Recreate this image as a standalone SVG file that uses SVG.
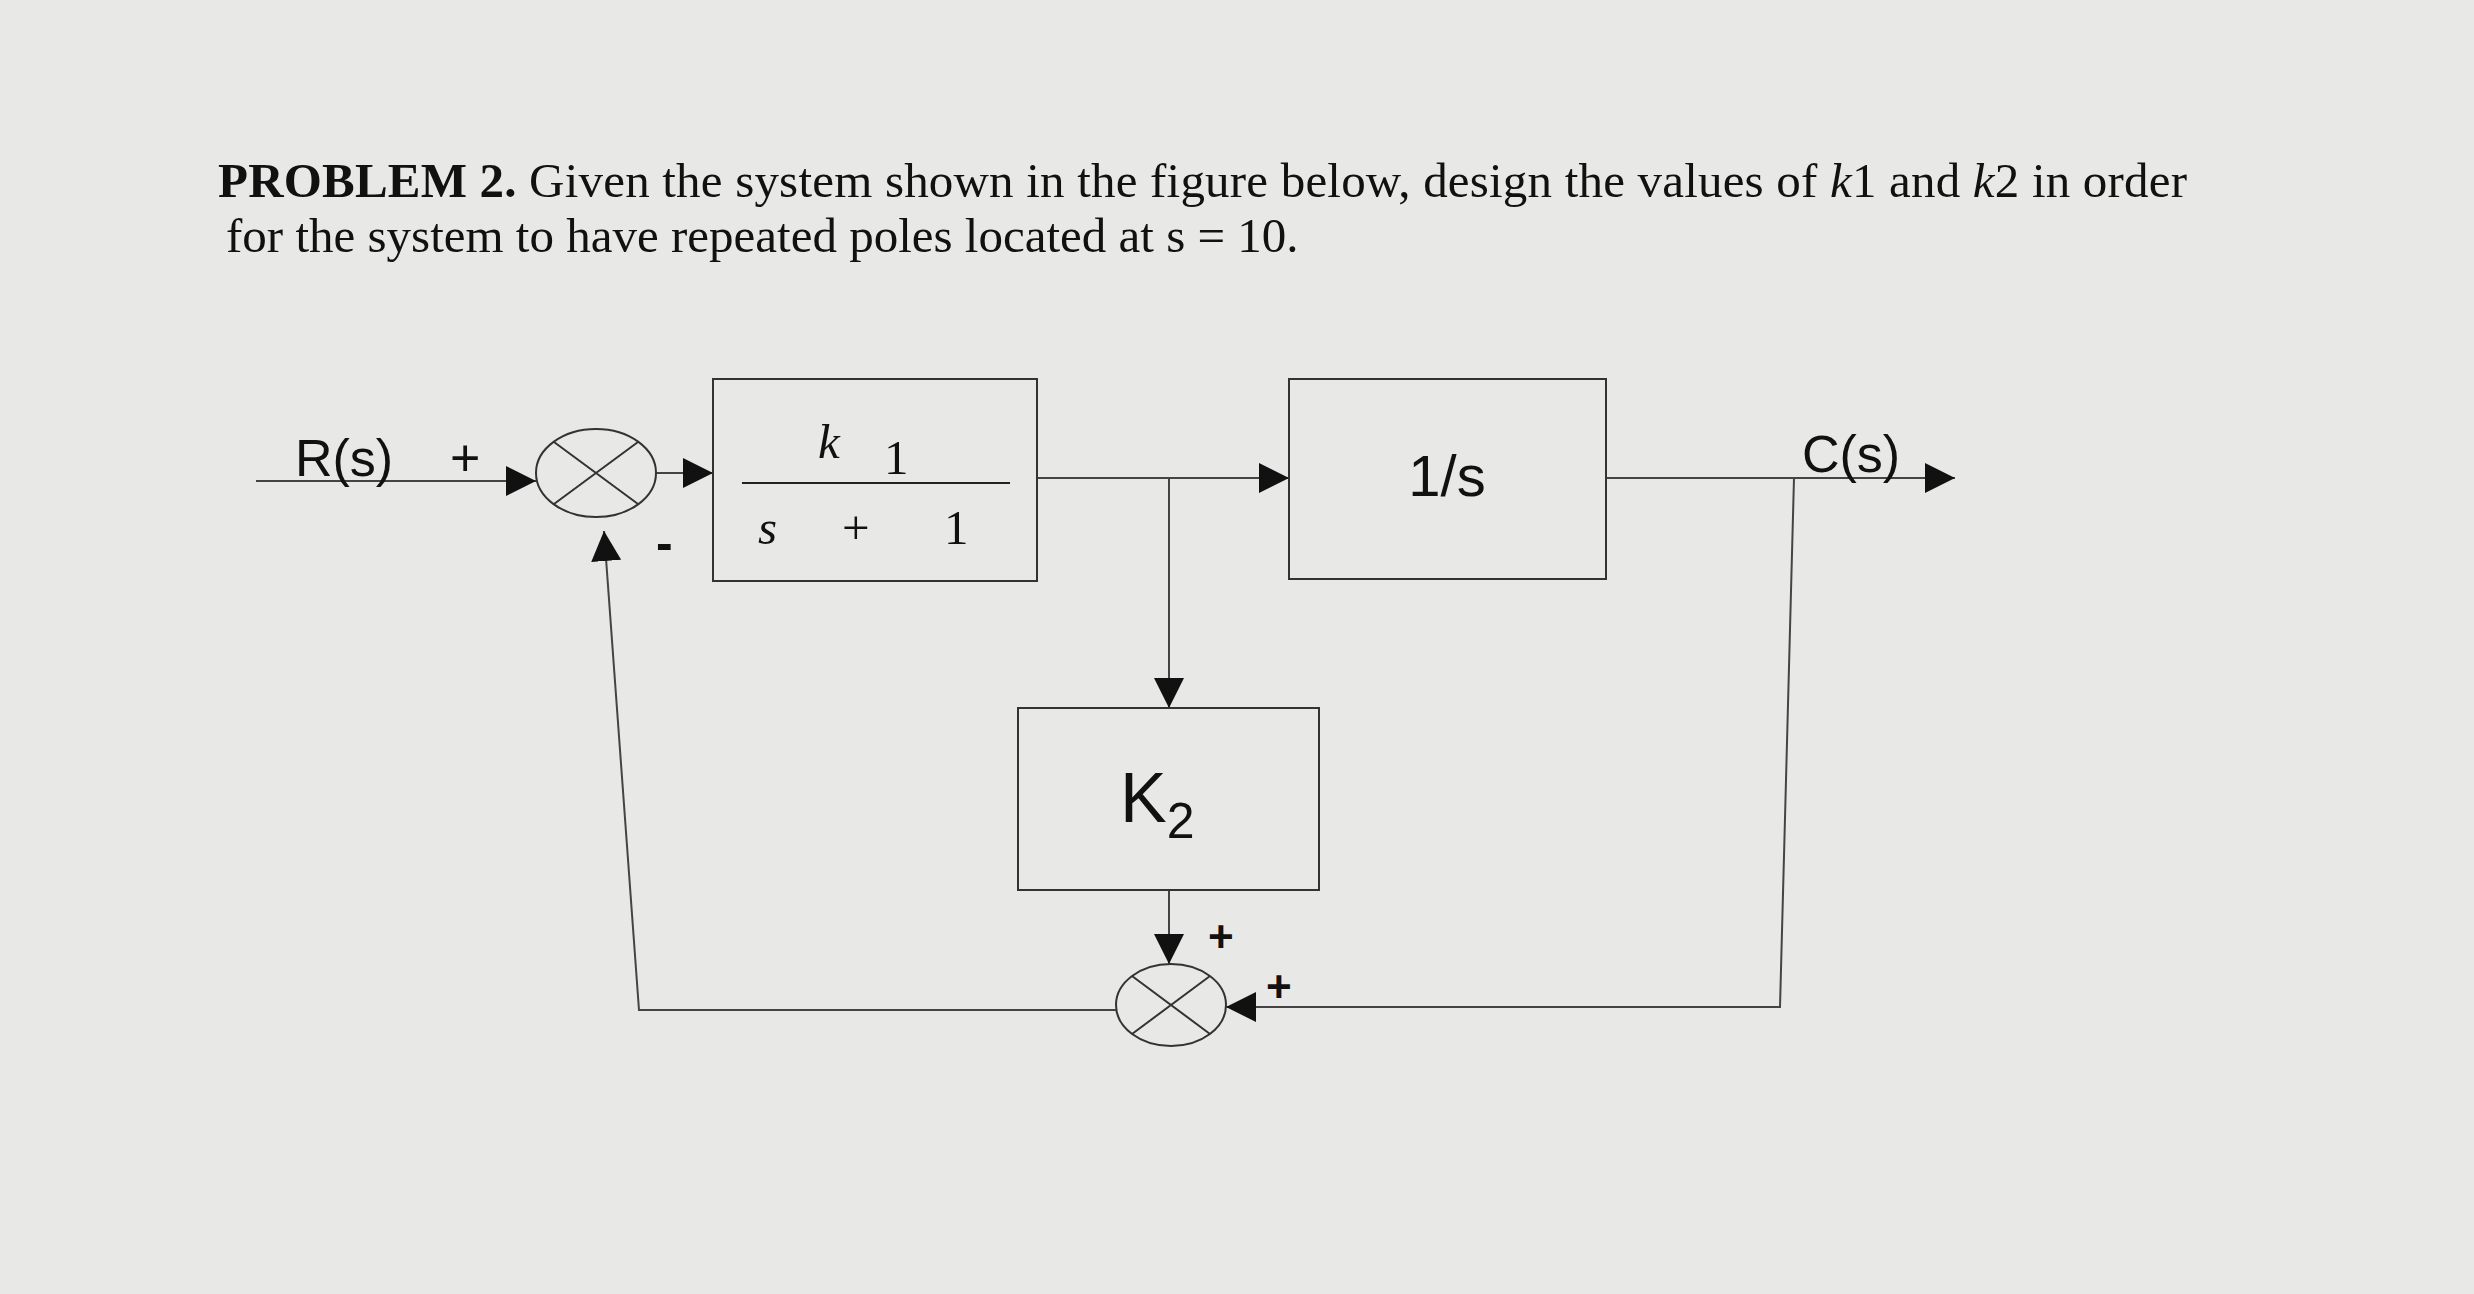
<svg xmlns="http://www.w3.org/2000/svg" width="2474" height="1294" viewBox="0 0 2474 1294">
<defs>
<marker id="a2" viewBox="0 0 10 10" refX="10" refY="5" markerWidth="30" markerHeight="30" markerUnits="userSpaceOnUse" orient="auto"><path d="M0,0 L10,5 L0,10 z" fill="#111"/></marker>
</defs>
<style>
.b{fill:none;stroke:#333;stroke-width:2}
.l{fill:none;stroke:#444;stroke-width:2}
.t{font-family:"Liberation Serif",serif;font-size:49px;fill:#111}
.s{font-family:"Liberation Sans",sans-serif;fill:#111}
</style>
<rect width="2474" height="1294" fill="#e8e8e6"/>
<text class="t" x="218" y="197" textLength="1969"><tspan font-weight="bold">PROBLEM 2.</tspan> Given the system shown in the figure below, design the values of <tspan font-style="italic">k</tspan>1 and <tspan font-style="italic">k</tspan>2 in order</text>
<text class="t" x="226" y="252">for the system to have repeated poles located at s = 10.</text>
<g id="connectors">
<path class="l" d="M256,481 L536,481" marker-end="url(#a2)"/>
<path class="l" d="M656,473 L713,473" marker-end="url(#a2)"/>
<path class="l" d="M1037,478 L1289,478" marker-end="url(#a2)"/>
<path class="l" d="M1169,478 L1169,708" marker-end="url(#a2)"/>
<path class="l" d="M1606,478 L1955,478" marker-end="url(#a2)"/>
<path class="l" d="M1794,478 L1780,1007 L1226,1007" marker-end="url(#a2)"/>
<path class="l" d="M1169,890 L1169,964" marker-end="url(#a2)"/>
<path class="l" d="M1116,1010 L639,1010 L604,531" marker-end="url(#a2)"/>
</g>
<g id="sum1"><ellipse class="b" cx="596" cy="473" rx="60" ry="44" stroke-width="3"/><path class="b" stroke-width="3" d="M554,442 L638,504 M554,504 L638,442"/></g>
<g id="sum2"><ellipse class="b" cx="1171" cy="1005" rx="55" ry="41" stroke-width="3"/><path class="b" stroke-width="3" d="M1132,976 L1210,1034 M1132,1034 L1210,976"/></g>
<g id="block1"><rect class="b" x="713" y="379" width="324" height="202"/>
<line x1="742" y1="483" x2="1010" y2="483" stroke="#222" stroke-width="2"/>
<text class="t" x="818" y="458" font-style="italic" font-size="54">k</text>
<text class="t" x="884" y="474" font-size="26">1</text>
<text class="t" x="758" y="544" font-style="italic" font-size="50">s</text>
<text class="t" x="842" y="544" font-size="50">+</text>
<text class="t" x="944" y="544" font-size="50">1</text></g>
<g id="block2"><rect class="b" x="1289" y="379" width="317" height="200"/>
<text class="s" x="1447" y="496" font-size="58" text-anchor="middle">1/s</text></g>
<g id="blockK2"><rect class="b" x="1018" y="708" width="301" height="182"/>
<text class="s" x="1120" y="822" font-size="70">K<tspan font-size="50" dy="16">2</tspan></text></g>
<g id="labels">
<text class="s" x="295" y="476" font-size="52">R(s)</text>
<text class="s" x="450" y="476" font-size="52">+</text>
<text class="s" x="1802" y="472" font-size="52">C(s)</text>
<text class="s" x="656" y="560" font-size="50" font-weight="bold">-</text>
<text class="s" x="1208" y="952" font-size="44" font-weight="bold">+</text>
<text class="s" x="1266" y="1002" font-size="44" font-weight="bold">+</text>
</g>
</svg>
